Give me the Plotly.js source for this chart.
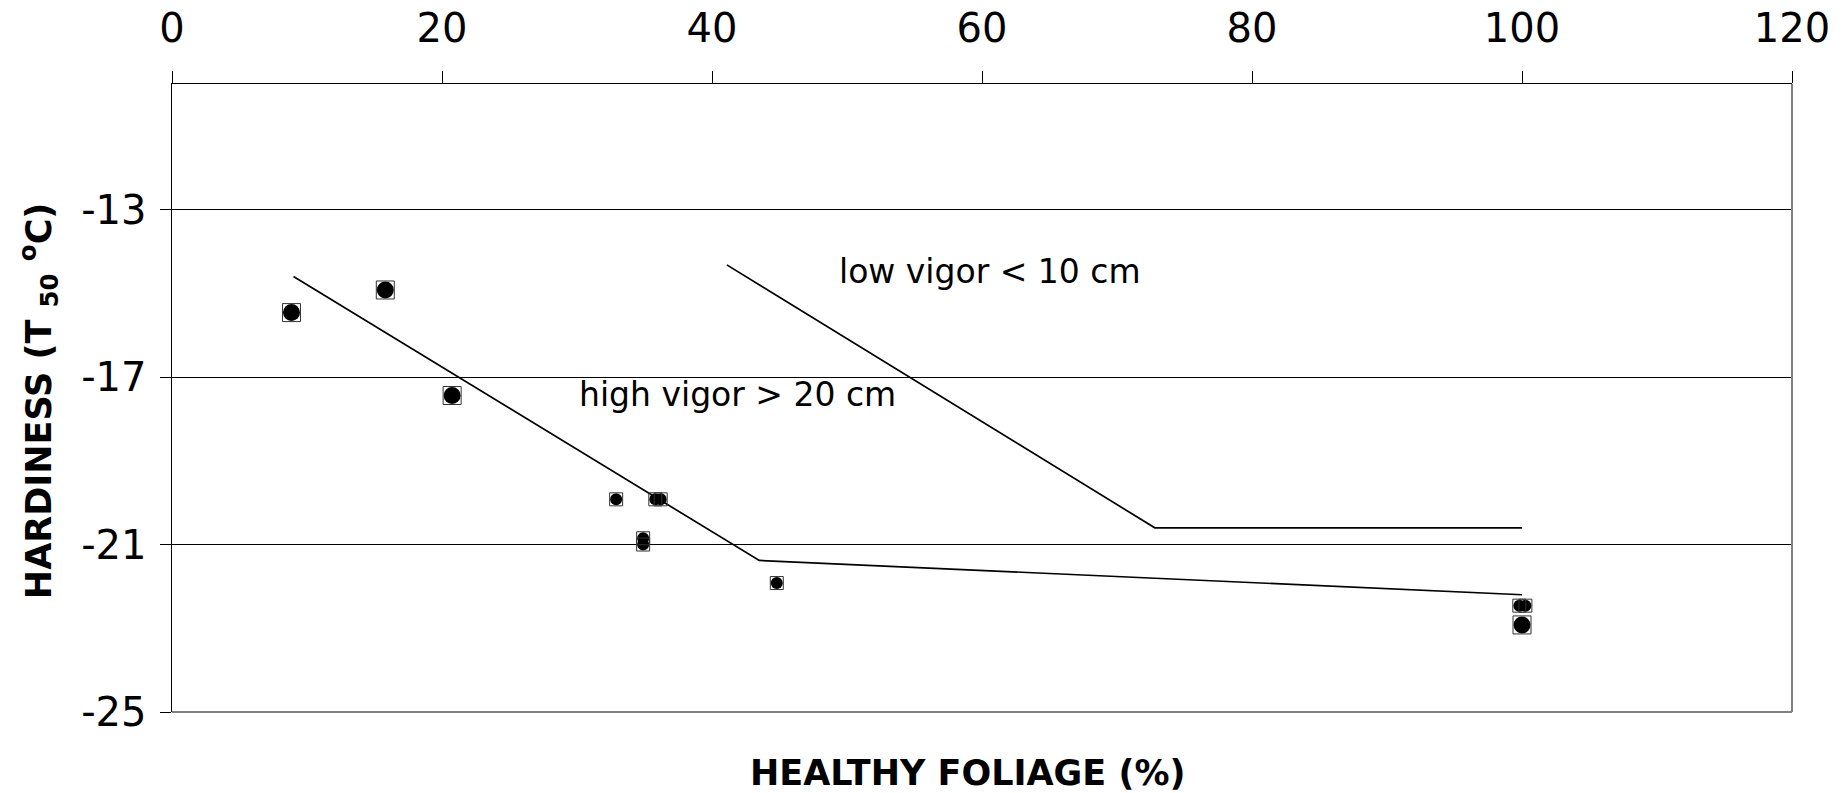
<!DOCTYPE html>
<html>
<head>
<meta charset="utf-8">
<script src="https://cdn.plot.ly/plotly-3.0.1.min.js"></script>
<style>
  html, body { margin: 0; padding: 0; background: #ffffff; }
  #chart { width: 1843px; height: 793px; }
</style>
</head>
<body>
<div id="chart"></div>
<script>
// Cold hardiness (T50, °C) against healthy foliage (%)
// Observations drawn with the larger marker
const bigFoliage = [8.85, 15.8, 20.75, 100.0];
const bigHardiness = [-15.46, -14.92, -17.44, -22.92];

// Observations drawn with the smaller marker
const smallFoliage = [32.9, 35.8, 36.2, 34.9, 34.9, 44.8, 99.8, 100.25];
const smallHardiness = [-19.92, -19.92, -19.92, -20.85, -21.0, -21.92, -22.46, -22.46];

// Fitted broken-line responses
const highVigorFoliage = [9.0, 43.5, 100];
const highVigorHardiness = [-14.6, -21.38, -22.2];
const lowVigorFoliage = [41.1, 72.8, 100];
const lowVigorHardiness = [-14.32, -20.6, -20.6];

const xTicks = [0, 20, 40, 60, 80, 100, 120];
const yTicks = [-25, -21, -17, -13];
// plain hyphen for the negative labels
const yTickText = yTicks.map(v => String(v));

const FONT = 'DejaVu Sans';

function pointTraces(xs, ys, size) {
  return [
    {
      x: xs, y: ys, type: 'scatter', mode: 'markers', hoverinfo: 'x+y',
      marker: { symbol: 'circle', size: size, color: '#000000', line: { width: 0 } }
    },
    {
      x: xs, y: ys, type: 'scatter', mode: 'markers', hoverinfo: 'skip',
      marker: { symbol: 'square-open', size: size + 1, color: '#333333', line: { width: 1, color: '#333333' } }
    }
  ];
}

const traces = [
  {
    x: highVigorFoliage, y: highVigorHardiness, type: 'scatter', mode: 'lines',
    line: { color: '#000000', width: 1.7 }, name: 'high vigor'
  },
  {
    x: lowVigorFoliage, y: lowVigorHardiness, type: 'scatter', mode: 'lines',
    line: { color: '#000000', width: 1.7 }, name: 'low vigor'
  },
  ...pointTraces(bigFoliage, bigHardiness, 17),
  ...pointTraces(smallFoliage, smallHardiness, 12)
];

const layout = {
  width: 1843,
  height: 793,
  paper_bgcolor: '#ffffff',
  plot_bgcolor: '#ffffff',
  showlegend: false,
  margin: { l: 172, r: 51, t: 84, b: 81, pad: 0 },
  font: { family: FONT, color: '#000000', size: 30 },
  xaxis: {
    side: 'top',
    range: [0, 120],
    tickmode: 'array',
    tickvals: xTicks,
    ticktext: xTicks.map(v => String(v)),
    ticks: 'outside',
    ticklen: 12,
    tickwidth: 1,
    tickcolor: '#000000',
    ticklabelstandoff: 13,
    showline: true,
    linecolor: '#000000',
    linewidth: 1.5,
    showgrid: false,
    zeroline: false,
    tickfont: { family: FONT, size: 40, color: '#000000' },
    fixedrange: true
  },
  yaxis: {
    range: [-25, -10],
    tickmode: 'array',
    tickvals: yTicks,
    ticktext: yTickText,
    ticks: 'outside',
    ticklen: 11,
    tickwidth: 1,
    tickcolor: '#000000',
    ticklabelstandoff: 5,
    showline: true,
    linecolor: '#000000',
    linewidth: 1.5,
    showgrid: true,
    gridcolor: '#000000',
    gridwidth: 1,
    zeroline: false,
    tickfont: { family: FONT, size: 40, color: '#000000' },
    fixedrange: true
  },
  shapes: [
    // grey frame on the bottom and right sides
    { type: 'line', xref: 'paper', yref: 'paper', x0: 0, x1: 1, y0: 0, y1: 0,
      line: { color: '#808080', width: 2 }, layer: 'above' },
    { type: 'line', xref: 'paper', yref: 'paper', x0: 1, x1: 1, y0: 0, y1: 1,
      line: { color: '#808080', width: 2 }, layer: 'above' }
  ],
  annotations: [
    {
      text: 'low vigor &lt; 10 cm', x: 60.6, y: -14.47, xref: 'x', yref: 'y',
      xanchor: 'center', yanchor: 'middle', showarrow: false,
      font: { family: FONT, size: 33, color: '#000000' }
    },
    {
      text: 'high vigor &gt; 20 cm', x: 41.9, y: -17.42, xref: 'x', yref: 'y',
      xanchor: 'center', yanchor: 'middle', showarrow: false,
      font: { family: FONT, size: 33, color: '#000000' }
    },
    {
      text: '<b>HEALTHY FOLIAGE (%)</b>', x: 0.491, y: -0.097, xref: 'paper', yref: 'paper',
      xanchor: 'center', yanchor: 'middle', showarrow: false,
      font: { family: FONT, size: 35, color: '#000000' }
    },
    {
      text: '<b>HARDINESS (T <sub>50</sub> <sup>o</sup>C)</b>', x: -0.0827, y: 0.495,
      xref: 'paper', yref: 'paper', textangle: -90,
      xanchor: 'center', yanchor: 'middle', showarrow: false,
      font: { family: FONT, size: 35, color: '#000000' }
    }
  ]
};

Plotly.newPlot('chart', traces, layout, { displayModeBar: false, staticPlot: true });
</script>
</body>
</html>
